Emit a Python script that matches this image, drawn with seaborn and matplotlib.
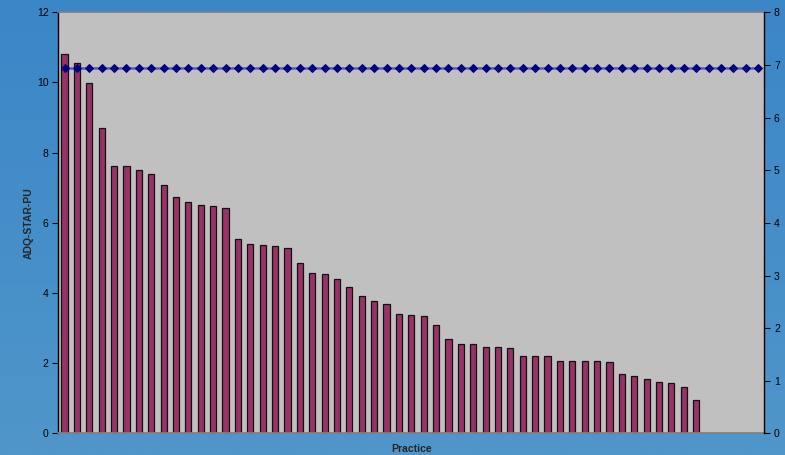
import numpy as np
import pandas as pd
import matplotlib
matplotlib.use("Agg")
import matplotlib.pyplot as plt
import seaborn as sns

# ADQ-STAR-PU per practice, sorted high to low
adq_star_pu = [10.82, 10.56, 9.98, 8.71, 7.63, 7.63, 7.52, 7.39, 7.07, 6.75,
               6.59, 6.52, 6.48, 6.42, 5.53, 5.40, 5.38, 5.35, 5.28, 4.85,
               4.57, 4.55, 4.39, 4.18, 3.91, 3.77, 3.68, 3.40, 3.37, 3.36,
               3.08, 2.70, 2.56, 2.54, 2.45, 2.45, 2.43, 2.20, 2.20, 2.20,
               2.06, 2.06, 2.06, 2.06, 2.04, 1.70, 1.64, 1.56, 1.47, 1.44,
               1.33, 0.96]
# category slots on the x axis (some have no bar)
n_slots = 57
practices = [f"P{i + 1:02d}" for i in range(n_slots)]
# reference level plotted on the secondary axis
reference_level = [6.95] * n_slots

left_ticks = [0, 2, 4, 6, 8, 10, 12]
right_ticks = [0, 1, 2, 3, 4, 5, 6, 7, 8]

bars = pd.DataFrame({"Practice": practices[:len(adq_star_pu)],
                     "ADQ": adq_star_pu})
line = pd.DataFrame({"pos": np.arange(n_slots), "level": reference_level})

sns.set_theme(style="white")
plt.rcParams["font.family"] = ["Liberation Sans", "DejaVu Sans"]

fig = plt.figure(figsize=(7.85, 4.55), dpi=100)

# blue gradient backdrop
bg = fig.add_axes([0, 0, 1, 1], zorder=-10)
top = np.array([58, 134, 199]) / 255
bottom = np.array([80, 150, 202]) / 255
t = np.linspace(0, 1, 256)[:, None]
grad = top[None, :] * (1 - t) + bottom[None, :] * t
bg.imshow(grad[:, None, :], aspect="auto", extent=[0, 1, 0, 1])
bg.set_axis_off()

ax = fig.add_axes([0.0743, 0.0473, 0.8993, 0.9257])
ax.set_facecolor("#C0C0C0")

sns.barplot(data=bars, x="Practice", y="ADQ", order=practices, ax=ax,
            color="#993366", saturation=1, width=0.5,
            edgecolor="#111111", linewidth=0.9)

ax.set_xlim(-0.5, n_slots - 0.5)
ax.set_ylim(0, 12)
ax.set_yticks(left_ticks)
ax.set_xticks([])
ax.set_xlabel("Practice", fontsize=7.5, fontweight="bold", labelpad=7.5)
ax.set_ylabel("ADQ-STAR-PU", fontsize=7.5, fontweight="bold", labelpad=2.5)
ax.tick_params(axis="y", direction="out", length=4, width=0.8,
               labelsize=7.5, colors="black", left=True, pad=3)

ax.spines["left"].set_color("black")
ax.spines["left"].set_linewidth(1)
ax.spines["top"].set_color("#808080")
ax.spines["bottom"].set_color("#808080")
ax.spines["right"].set_visible(False)

ax2 = ax.twinx()
sns.lineplot(data=line, x="pos", y="level", ax=ax2, color="#5C5CAE",
             linewidth=1.8, marker="D", markersize=4,
             markerfacecolor="#000080", markeredgecolor="#000080")
ax2.set_xlim(-0.5, n_slots - 0.5)
ax2.set_ylim(0, 8)
ax2.set_yticks(right_ticks)
ax2.set_ylabel("")
ax2.set_xlabel("")
ax2.tick_params(axis="y", direction="out", length=4, width=0.8,
                labelsize=7.5, colors="black", right=True, pad=3)
for side in ["left", "top", "bottom"]:
    ax2.spines[side].set_visible(False)
ax2.spines["right"].set_color("black")
ax2.spines["right"].set_linewidth(1)

fig.savefig("out.png", dpi=100)
